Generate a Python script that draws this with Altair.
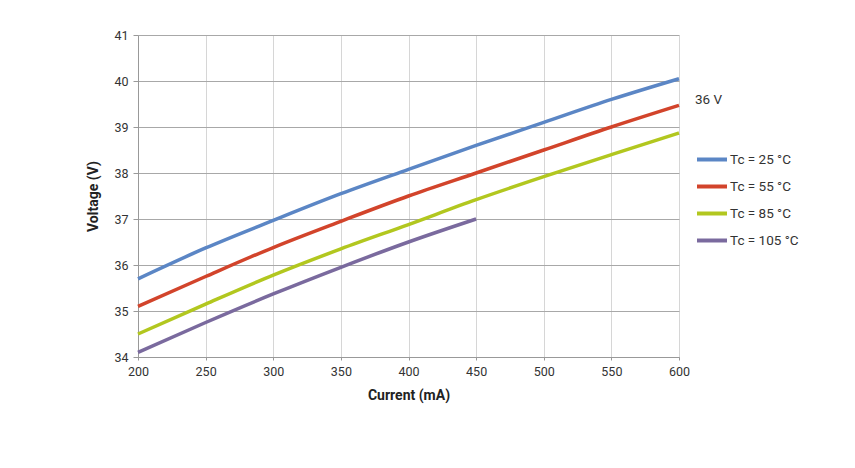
import altair as alt
import pandas as pd

currents = [200, 250, 300, 350, 400, 450, 500, 550, 600]
v25 = [35.70, 36.37, 36.97, 37.55, 38.08, 38.60, 39.10, 39.60, 40.05]
v55 = [35.10, 35.75, 36.38, 36.95, 37.50, 38.00, 38.50, 39.00, 39.47]
v85 = [34.50, 35.15, 35.78, 36.35, 36.88, 37.42, 37.92, 38.40, 38.87]
v105 = [34.10, 34.75, 35.37, 35.95, 36.50, 37.00]

series = ["Tc = 25 °C", "Tc = 55 °C", "Tc = 85 °C", "Tc = 105 °C"]
colors = ["#5B86C5", "#D2442B", "#B2C71F", "#7A6A9E"]

rows = []
for name, vals in zip(series, [v25, v55, v85, v105]):
    for c, v in zip(currents, vals):
        rows.append({"Current": c, "Voltage": v, "Series": name})
df = pd.DataFrame(rows)

FONT = "Roboto"

chart = alt.Chart(df).mark_line(strokeWidth=3.5, interpolate="monotone").encode(
    x=alt.X("Current:Q", title="Current (mA)",
            scale=alt.Scale(domain=[200, 600], nice=False),
            axis=alt.Axis(values=list(range(200, 601, 50)), tickSize=3,
                          tickColor="#999999", domainColor="#999999",
                          gridColor="#d6d6d6", labelPadding=5,
                          labelFlush=False, labelBound=False,
                          titlePadding=11)),
    y=alt.Y("Voltage:Q", title="Voltage (V)",
            scale=alt.Scale(domain=[34, 41], nice=False, zero=False),
            axis=alt.Axis(values=list(range(34, 42)), tickSize=5,
                          tickColor="#999999", domainColor="#999999",
                          gridColor="#a8a8a8", labelPadding=5,
                          labelFlush=False, labelBound=False,
                          titlePadding=13)),
    color=alt.Color("Series:N", scale=alt.Scale(domain=series, range=colors),
                    legend=alt.Legend(title="36 V", orient="none",
                                      legendX=557, legendY=58,
                                      symbolType="stroke", symbolSize=900,
                                      symbolStrokeWidth=4, titlePadding=36,
                                      rowPadding=2, labelOffset=1)),
).properties(
    width=541, height=322,
    autosize=alt.AutoSizeParams(type="none"),
    padding={"left": 138, "top": 35, "right": 176, "bottom": 111},
).configure_view(stroke=None).configure_axis(
    labelFont=FONT, titleFont=FONT, labelFontSize=12.5, labelColor="#333333",
    titleFontSize=14, titleFontWeight="bold", titleColor="#222222",
).configure_legend(
    labelFont=FONT, titleFont=FONT, labelFontSize=13.5, labelColor="#333333",
    titleFontSize=13.5, titleFontWeight="normal", titleColor="#333333",
)

chart.save("out.html", embed_options={"renderer": "svg", "actions": False})
